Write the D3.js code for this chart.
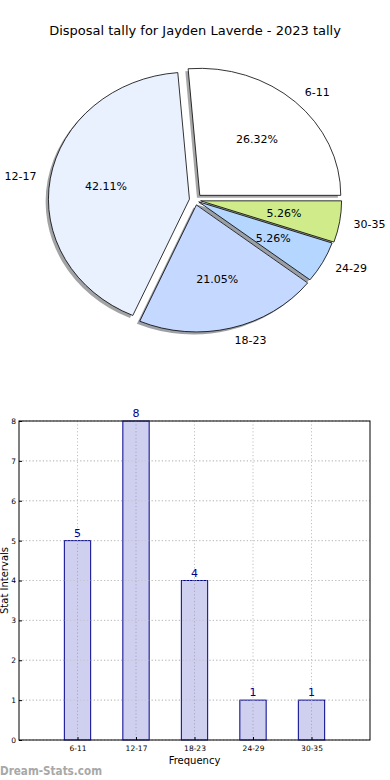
<!DOCTYPE html>
<html><head><meta charset="utf-8">
<script src="https://cdn.jsdelivr.net/npm/d3@7"></script>
<style>body{margin:0;background:#fff}svg{display:block}text{font-family:"DejaVu Sans",sans-serif}</style>
</head><body>
<script>
const title = "Disposal tally for Jayden Laverde - 2023 tally";
const categories = ["6-11","12-17","18-23","24-29","30-35"];
const counts = [5, 8, 4, 1, 1];
const pieColors = ["#ffffff","#eaf1fe","#c5d8ff","#b4d6ff","#d0ec8a"];
const explode = [0.05, 0.04, 0.04, 0.03, 0.04];
const yTicks = [0,1,2,3,4,5,6,7,8];
const xLabel = "Frequency";
const yLabel = "Stat Intervals";
const watermark = "Dream-Stats.com";

const W = 390, H = 780;
const svg = d3.select("body").append("svg").attr("width", W).attr("height", H);

svg.append("text").attr("x", 195).attr("y", 35).attr("text-anchor","middle")
  .attr("font-size", 13).attr("fill","#000").text(title);

// ---- Pie ----
const cx = 195, cy = 200, rx = 141, ry = 127;
const total = d3.sum(counts);
const pie = d3.pie().sort(null).value(d => d).startAngle(Math.PI/2).endAngle(Math.PI/2 - 2*Math.PI);
const arcs = pie(counts);
const arcGen = d3.arc().innerRadius(0).outerRadius(rx);
const sy = ry / rx;
function dir(a){ const m = (a.startAngle + a.endAngle)/2; return [Math.sin(m), -Math.cos(m)]; }
const pg = svg.append("g");
arcs.forEach((a,i) => {
  const [dx,dy] = dir(a);
  const ox = cx + explode[i]*rx*dx - 0.02*rx, oy = cy + explode[i]*ry*dy + 0.02*ry;
  const c = d3.rgb(pieColors[i]);
  pg.append("path").attr("d", arcGen(a))
    .attr("transform", `translate(${ox},${oy}) scale(1,${sy})`)
    .attr("fill", d3.rgb(c.r*0.3, c.g*0.3, c.b*0.3)).attr("fill-opacity", 0.5);
});
arcs.forEach((a,i) => {
  const [dx,dy] = dir(a);
  const ox = cx + explode[i]*rx*dx, oy = cy + explode[i]*ry*dy;
  pg.append("path").attr("d", arcGen(a))
    .attr("transform", `translate(${ox},${oy}) scale(1,${sy})`)
    .attr("fill", pieColors[i]).attr("stroke","#000").attr("stroke-width",0.8)
    .attr("vector-effect","non-scaling-stroke");
  pg.append("text").attr("x", ox + 0.6*rx*dx).attr("y", oy + 0.6*ry*dy).attr("dy","0.35em")
    .attr("text-anchor","middle").attr("font-size",11).attr("fill","#000")
    .text((counts[i]/total*100).toFixed(2) + "%");
  pg.append("text").attr("x", ox + 1.1*rx*dx).attr("y", oy + 1.1*ry*dy).attr("dy","0.35em")
    .attr("text-anchor", dx > 0 ? "start" : "end").attr("font-size",11).attr("fill","#000")
    .text(categories[i]);
});

// ---- Bars ----
const L = 19, R = 370, T = 421, B = 740;
const x = d3.scaleLinear().domain([-1, categories.length]).range([L, R]);
const y = d3.scaleLinear().domain([0, 8]).range([B, T]);
const bg = svg.append("g");
bg.selectAll(".gy").data(yTicks).join("line")
  .attr("x1", L).attr("x2", R).attr("y1", d => y(d)).attr("y2", d => y(d))
  .attr("stroke","#c0c0c0").attr("stroke-dasharray","1.2,2.2").attr("stroke-width",1);
bg.selectAll(".gx").data(categories).join("line")
  .attr("x1", (d,i) => x(i)).attr("x2", (d,i) => x(i)).attr("y1", T).attr("y2", B)
  .attr("stroke","#c0c0c0").attr("stroke-dasharray","1.2,2.2").attr("stroke-width",1);
const bw = 0.45;
bg.selectAll(".bar").data(counts).join("rect")
  .attr("x", (d,i) => x(i - bw/2)).attr("width", x(bw) - x(0))
  .attr("y", d => y(d)).attr("height", d => B - y(d))
  .attr("fill","#ccccee").attr("fill-opacity",0.95).attr("stroke","#00008b").attr("stroke-width",1);
bg.selectAll(".gx2").data(categories).join("line")
  .attr("x1", (d,i) => x(i)).attr("x2", (d,i) => x(i)).attr("y1", (d,i) => y(counts[i])).attr("y2", B)
  .attr("stroke","#a8a8c0").attr("stroke-dasharray","1.2,2.2").attr("stroke-width",1);
bg.selectAll(".gy2").data(yTicks).join("line")
  .attr("x1", L).attr("x2", R).attr("y1", d => y(d)).attr("y2", d => y(d))
  .attr("stroke","#c0c0c0").attr("stroke-dasharray","1.2,2.2").attr("stroke-width",1).attr("opacity",0.6);
bg.selectAll(".val").data(counts).join("text")
  .attr("x", (d,i) => x(i)).attr("y", d => y(d) - 4).attr("text-anchor","middle")
  .attr("font-size",11).attr("fill","#00008b").text(d => d);
bg.append("rect").attr("x", L).attr("y", T).attr("width", R-L).attr("height", B-T)
  .attr("fill","none").attr("stroke","#000").attr("stroke-width",1);
const ya = bg.append("g").attr("transform", `translate(${L},0)`)
  .call(d3.axisLeft(y).tickValues(yTicks).tickSize(-3).tickPadding(3).tickFormat(d3.format("d")));
ya.select(".domain").remove();
ya.selectAll("text").attr("font-size",7.5).attr("fill","#000").style("font-family","DejaVu Sans");
ya.selectAll("line").attr("stroke","#000");
const xa = bg.append("g").attr("transform", `translate(0,${B})`)
  .call(d3.axisBottom(x).tickValues(d3.range(categories.length)).tickSize(-3).tickPadding(6).tickFormat(i => categories[i]));
xa.select(".domain").remove();
xa.selectAll("text").attr("font-size",7.5).attr("fill","#000").style("font-family","DejaVu Sans");
xa.selectAll("line").attr("stroke","#000");
svg.append("text").attr("x", (L+R)/2).attr("y", 764).attr("text-anchor","middle")
  .attr("font-size",10).attr("fill","#000").text(xLabel);
svg.append("text").attr("transform", `translate(4,${(T+B)/2}) rotate(-90)`).attr("dy","0.35em")
  .attr("text-anchor","middle").attr("font-size",10).attr("fill","#000").text(yLabel);
svg.append("text").attr("x", 0).attr("y", 775).attr("font-size",11.5).attr("font-weight","bold")
  .attr("fill","#a8a8a8").attr("textLength",102).attr("lengthAdjust","spacingAndGlyphs").text(watermark);
</script>
</body></html>
